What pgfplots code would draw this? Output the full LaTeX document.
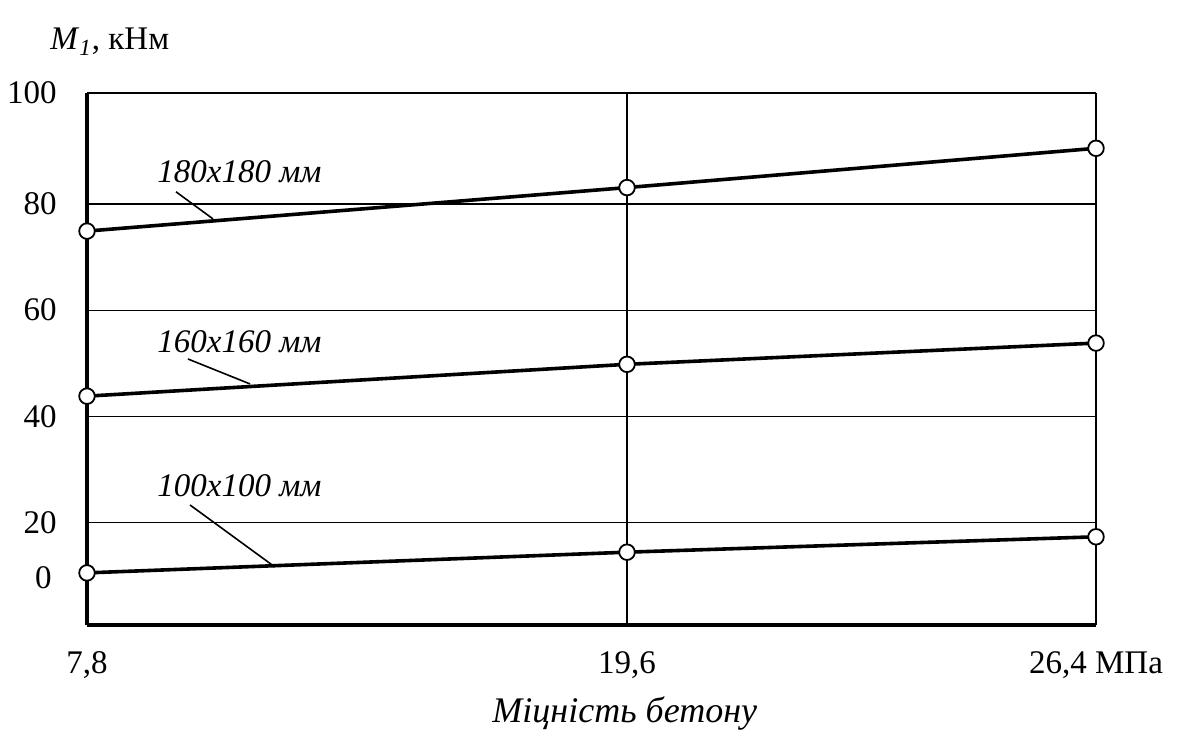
\documentclass[border=0pt]{standalone}
\usepackage{pgfplots}
\pgfplotsset{compat=1.18}
\usepackage{fontspec}
\setmainfont{Liberation Serif}
\newcommand{\fs}{\fontsize{16.5}{19.8}\selectfont}
\begin{document}
\begin{tikzpicture}
\useasboundingbox (-43.5pt,-54pt) rectangle (547pt,312.5pt);
\begin{axis}[
 at={(0,0)}, anchor=south west, scale only axis,
 width=504.5pt, height=266pt,
 xmin=0, xmax=1.8685, ymin=0.68, ymax=100.92,
 axis lines=left, axis line style={-, line width=1.7pt},
 xtick={0,1,1.8685}, xticklabels={{7,8},{19,6},{26,4 МПа}},
 ytick={20,40,60,80}, yticklabels={20,40,60,80},
 extra y ticks={100.92}, extra y tick labels={100},
 extra y tick style={grid style={black, line width=1pt}},
 major tick length=0pt,
 grid=major, grid style={black, line width=0.65pt},
 tick label style={font=\fs},
 xticklabel style={anchor=base, yshift=-24pt},
 yticklabel style={anchor=east, inner sep=0pt, xshift=-15pt},
 clip=false,
]
\addplot[black, line width=1.8pt, mark=*, mark size=3.9pt, mark options={fill=white, draw=black, line width=0.9pt}]
 coordinates {(0,74.9) (1,83.1) (1.8685,90.5)};
\addplot[black, line width=1.8pt, mark=*, mark size=3.9pt, mark options={fill=white, draw=black, line width=0.9pt}]
 coordinates {(0,43.8) (1,49.8) (1.8685,53.8)};
\addplot[black, line width=1.8pt, mark=*, mark size=3.9pt, mark options={fill=white, draw=black, line width=0.9pt}]
 coordinates {(0,10.5) (1,14.4) (1.8685,17.3)};

\node[anchor=base west, inner sep=0pt, font=\fs\itshape] at (axis cs:0.1296,84.1) {180x180 мм};
\draw[line width=0.8pt] (axis cs:0.1648,82.3) -- (axis cs:0.2333,77.2);
\node[anchor=base west, inner sep=0pt, font=\fs\itshape] at (axis cs:0.1296,52.1) {160x160 мм};
\draw[line width=0.8pt] (axis cs:0.187,50.8) -- (axis cs:0.3019,46.1);
\node[anchor=base west, inner sep=0pt, font=\fs\itshape] at (axis cs:0.1296,24.8) {100x100 мм};
\draw[line width=0.8pt] (axis cs:0.1907,23.3) -- (axis cs:0.3481,11.6);

\node[anchor=east, inner sep=0pt, font=\fs, xshift=-17.5pt] at (axis cs:0,9.53) {0};
\node[anchor=base, inner sep=0pt, font=\fontsize{18}{21}\selectfont\itshape, yshift=-48.5pt] at (rel axis cs:0.533,0) {Міцність бетону};
\node[anchor=base west, inner sep=0pt, font=\fs, xshift=-18.5pt, yshift=287.5pt] at (rel axis cs:0,0) {\textit{M}\textsubscript{\textit{1}}, кНм};
\end{axis}
\end{tikzpicture}
\end{document}
